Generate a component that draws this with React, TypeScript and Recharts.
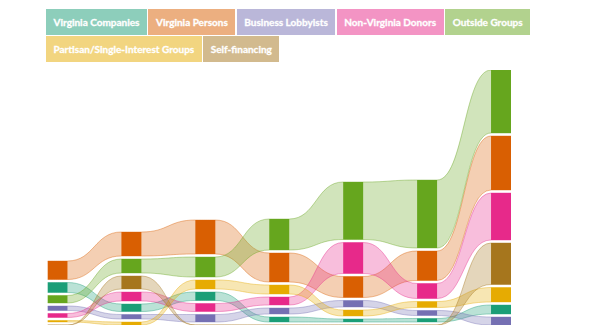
import React from 'react';
import { ComposedChart, Area, XAxis, YAxis, Legend } from 'recharts';

// Seven reporting periods (no labels shown in the chart)
const periods = ['P1', 'P2', 'P3', 'P4', 'P5', 'P6', 'P7'];

const seriesNames = [
  'Virginia Companies',
  'Virginia Persons',
  'Business Lobbyists',
  'Non-Virginia Donors',
  'Outside Groups',
  'Partisan/Single-Interest Groups',
  'Self-financing',
];

// values (relative units) per period
const virginiaCompanies = [10, 7.5, 8.5, 5, 3, 3.5, 9];
const virginiaPersons = [18.5, 24, 34, 29, 21, 29.5, 54];
const businessLobbyists = [4.5, 4.5, 7.5, 6, 6.5, 5, 8];
const nonVirginiaDonors = [4, 9, 8, 8, 31, 15, 47];
const outsideGroups = [7.5, 14, 20, 31, 57.5, 68, 63];
const partisanGroups = [1.5, 3, 9, 9, 6, 6, 14.5];
const selfFinancing = [0, 13, 0, 0, 0, 0, 41.5];

const seriesColors = ['#1b9e77', '#d95f02', '#7570b3', '#e7298a', '#66a61e', '#e6ab02', '#a6761d'];
const legendColors = ['#8dcebb', '#ecaf80', '#bab7d9', '#f394c4', '#b2d28e', '#f2d580', '#d2ba8e'];

const GAP = 3;
const BAR_HALF = 0.135;

const seriesValues = [
  virginiaCompanies,
  virginiaPersons,
  businessLobbyists,
  nonVirginiaDonors,
  outsideGroups,
  partisanGroups,
  selfFinancing,
];

// stack each period: smallest at the bottom, largest on top, with gaps
const stacks: [number, number][][] = seriesValues.map(() => []);
periods.forEach((_, c) => {
  const order = seriesValues.map((_v, s) => s).sort((a, b) => seriesValues[a][c] - seriesValues[b][c]);
  let cum = 0;
  order.forEach((s) => {
    const v = seriesValues[s][c];
    stacks[s][c] = [cum, cum + v];
    cum += v + GAP;
  });
});
const yMax = Math.max(...periods.map((_, c) => Math.max(...stacks.map((st) => st[c][1]))));

type Row = { x: number; col: number | null };
const rows: Row[] = [];
periods.forEach((_, c) => {
  rows.push({ x: c - BAR_HALF, col: c });
  rows.push({ x: c + BAR_HALF, col: c });
  if (c < periods.length - 1) rows.push({ x: c + 0.5, col: null });
});

const keyFor = (s: number) => (row: Row) => (row.col == null ? null : stacks[s][row.col]);

const LegendContent = () => (
  <div style={{ display: 'flex', flexWrap: 'wrap', width: 500, fontFamily: 'Lato, sans-serif' }}>
    {seriesNames.map((n, i) => (
      <div
        key={n}
        style={{
          background: legendColors[i],
          color: '#fff',
          fontWeight: 700,
          fontSize: 10,
          lineHeight: '14px',
          padding: '6px 7.5px',
          marginRight: 1.5,
          marginBottom: 1,
          whiteSpace: 'nowrap',
          WebkitTextStroke: '0.3px #fff',
        }}
      >
        {n}
      </div>
    ))}
  </div>
);

export default function App() {
  return (
    <ComposedChart
      width={592}
      height={322}
      data={rows}
      margin={{ top: 62, right: 89, bottom: 5, left: 39.5 }}
    >
      <XAxis
        type="number"
        dataKey="x"
        domain={[-BAR_HALF, periods.length - 1 + BAR_HALF]}
        allowDataOverflow
        hide
      />
      <YAxis type="number" domain={[0, yMax]} allowDataOverflow hide />
      <Legend
        layout="horizontal"
        verticalAlign="middle"
        align="center"
        content={<LegendContent />}
        wrapperStyle={{ top: 1, left: 38, width: 500 }}
      />
      {seriesNames.map((n, s) => (
        <Area
          key={'ribbon-' + n}
          type="bumpX"
          dataKey={keyFor(s)}
          name={n}
          fill={seriesColors[s]}
          fillOpacity={0.3}
          stroke={seriesColors[s]}
          strokeOpacity={0.4}
          strokeWidth={1}
          connectNulls
          dot={false}
          activeDot={false}
          isAnimationActive={false}
          legendType="none"
        />
      ))}
      {seriesNames.map((n, s) => (
        <Area
          key={'bar-' + n}
          type="linear"
          dataKey={keyFor(s)}
          name={n + ' bar'}
          fill={seriesColors[s]}
          fillOpacity={1}
          stroke="none"
          connectNulls={false}
          dot={false}
          activeDot={false}
          isAnimationActive={false}
          legendType="none"
        />
      ))}
    </ComposedChart>
  );
}
